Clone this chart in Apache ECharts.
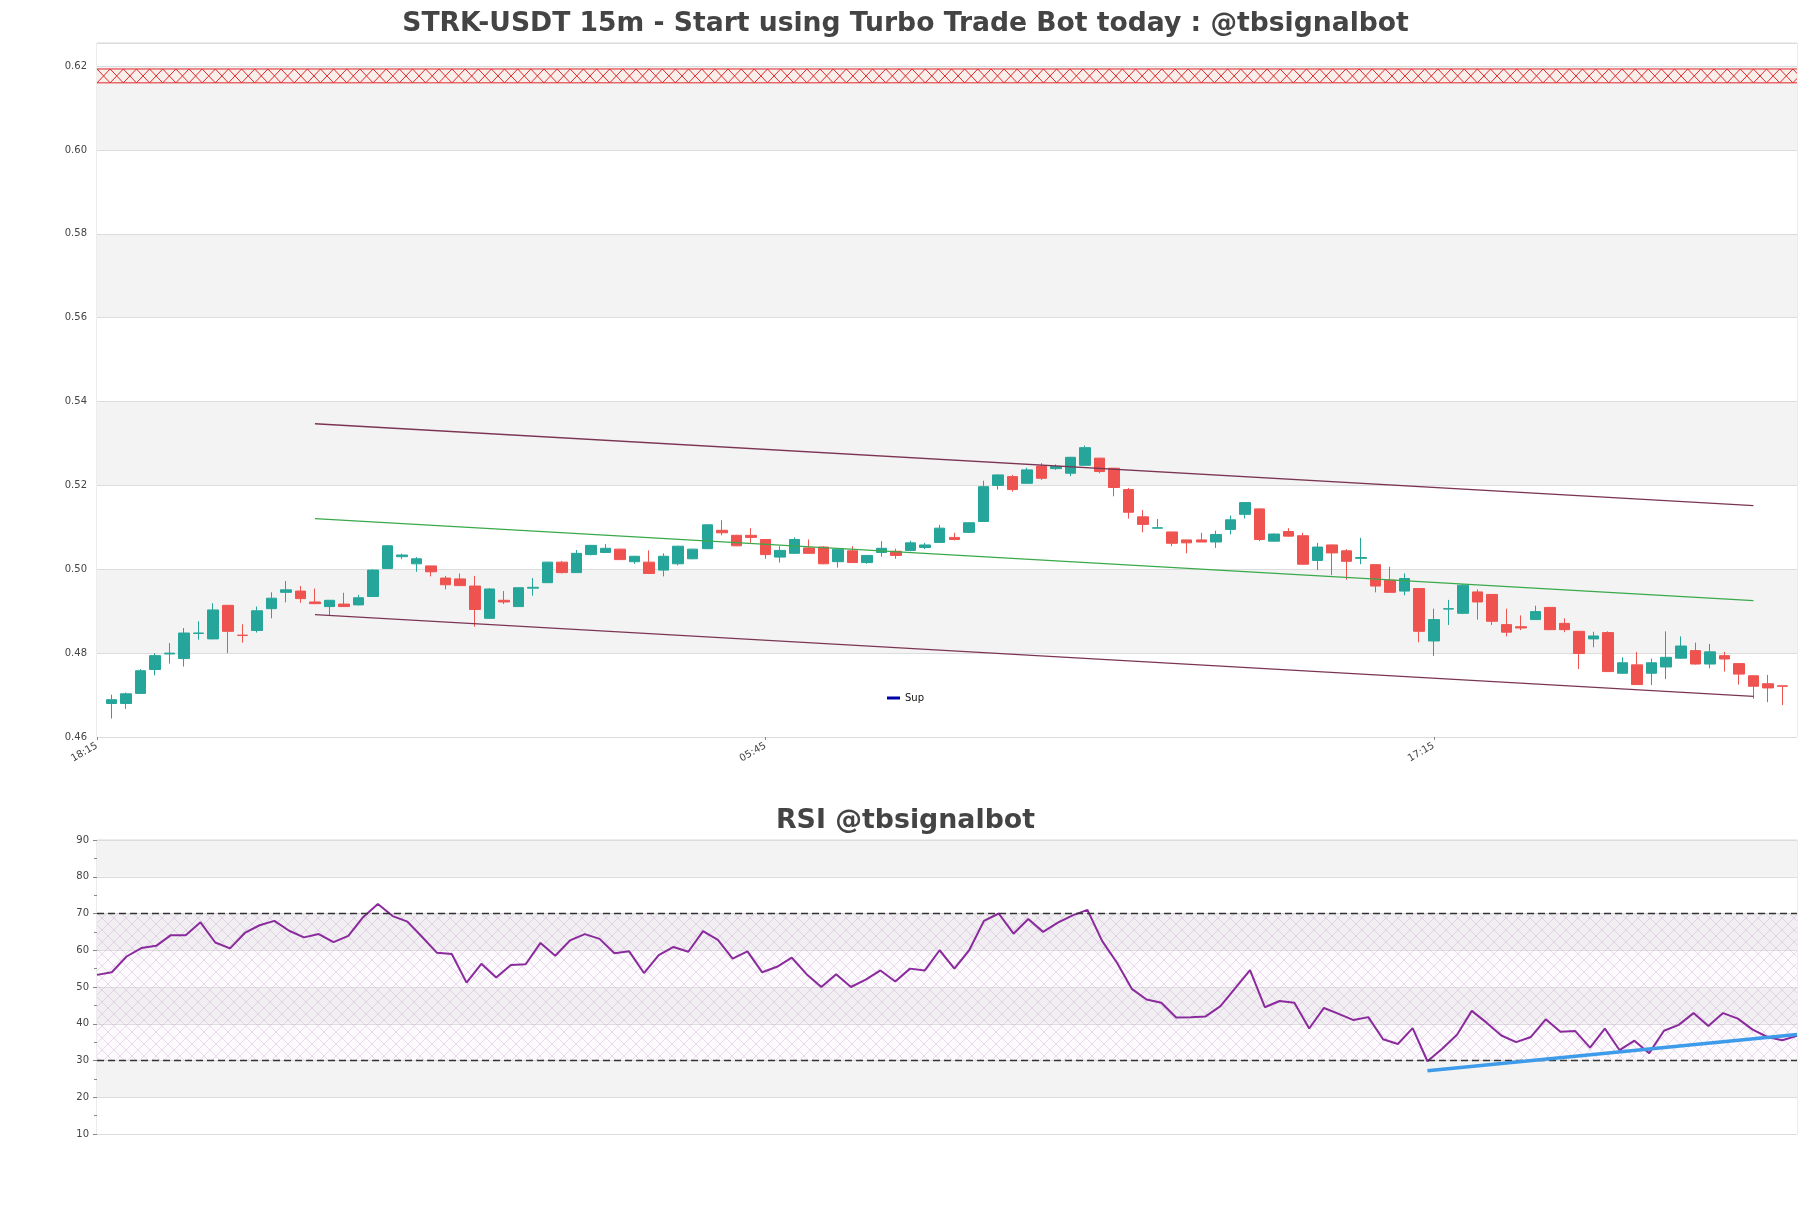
<!DOCTYPE html>
<html><head><meta charset="utf-8">
<script src="https://cdn.jsdelivr.net/npm/echarts@6/dist/echarts.min.js"></script>
<style>html,body{margin:0;padding:0;background:#fff}#c{width:1811px;height:1208px}</style>
</head><body><div id="c"></div>
<script>
// ---- category (time) labels: axis slots, first/last slot have no candle ----
const timeLabels = [
"18:15","18:30","18:45","19:00","19:15","19:30","19:45","20:00","20:15","20:30","20:45","21:00","21:15","21:30","21:45",
"22:00","22:15","22:30","22:45","23:00","23:15","23:30","23:45","00:00","00:15","00:30","00:45","01:00","01:15","01:30","01:45",
"02:00","02:15","02:30","02:45","03:00","03:15","03:30","03:45","04:00","04:15","04:30","04:45","05:00","05:15","05:30","05:45",
"06:00","06:15","06:30","06:45","07:00","07:15","07:30","07:45","08:00","08:15","08:30","08:45","09:00","09:15","09:30","09:45",
"10:00","10:15","10:30","10:45","11:00","11:15","11:30","11:45","12:00","12:15","12:30","12:45","13:00","13:15","13:30","13:45",
"14:00","14:15","14:30","14:45","15:00","15:15","15:30","15:45","16:00","16:15","16:30","16:45","17:00","17:15","17:30","17:45",
"18:00","18:15","18:30","18:45","19:00","19:15","19:30","19:45","20:00","20:15","20:30","20:45","21:00","21:15","21:30","21:45",
"22:00","22:15","22:30","22:45","23:00","23:15","23:30"];

// ---- OHLC values (candle i sits on slot i+1) ----
const openVals = [0.4680,0.4680,0.4704,0.4761,0.4798,0.4787,0.4847,0.4834,0.4914,0.4843,0.4854,0.4906,0.4945,0.4948,0.4922,0.4911,0.4917,0.4915,0.4935,0.5002,
0.5030,0.5013,0.5008,0.4979,0.4977,0.4960,0.4883,0.4926,0.4911,0.4955,0.4968,0.5017,0.4992,0.5035,0.5040,0.5048,0.5018,0.5017,0.4998,0.5013,
0.5025,0.5049,0.5093,0.5081,0.5081,0.5071,0.5029,0.5038,0.5051,0.5053,0.5018,0.5044,0.5016,0.5040,0.5043,0.5045,0.5052,0.5064,0.5076,0.5088,
0.5114,0.5200,0.5221,0.5205,0.5246,0.5240,0.5229,0.5248,0.5265,0.5241,0.5190,0.5125,0.5098,0.5089,0.5070,0.5070,0.5065,0.5095,0.5131,0.5144,
0.5067,0.5090,0.5080,0.5021,0.5058,0.5044,0.5026,0.5011,0.4974,0.4948,0.4954,0.4829,0.4905,0.4895,0.4946,0.4940,0.4868,0.4863,0.4880,0.4909,
0.4871,0.4852,0.4834,0.4849,0.4752,0.4772,0.4752,0.4767,0.4788,0.4806,0.4774,0.4794,0.4775,0.4746,0.4727,0.4722];
const closeVals = [0.4689,0.4703,0.4758,0.4794,0.4800,0.4848,0.4848,0.4903,0.4852,0.4842,0.4901,0.4931,0.4951,0.4930,0.4918,0.4926,0.4911,0.4932,0.4998,0.5056,
0.5034,0.5025,0.4994,0.4963,0.4961,0.4904,0.4953,0.4922,0.4956,0.4957,0.5017,0.4992,0.5038,0.5057,0.5050,0.5023,0.5031,0.4990,0.5031,0.5055,
0.5048,0.5106,0.5087,0.5056,0.5076,0.5035,0.5045,0.5071,0.5038,0.5013,0.5048,0.5016,0.5033,0.5050,0.5033,0.5063,0.5058,0.5098,0.5071,0.5111,
0.5197,0.5225,0.5190,0.5237,0.5217,0.5245,0.5267,0.5290,0.5233,0.5195,0.5136,0.5107,0.5099,0.5062,0.5063,0.5065,0.5083,0.5118,0.5159,0.5071,
0.5084,0.5079,0.5012,0.5053,0.5039,0.5019,0.5028,0.4960,0.4945,0.4978,0.4852,0.4880,0.4906,0.4962,0.4922,0.4876,0.4850,0.4860,0.4899,0.4856,
0.4856,0.4799,0.4841,0.4756,0.4777,0.4725,0.4777,0.4790,0.4817,0.4774,0.4803,0.4786,0.4750,0.4721,0.4717,0.4721];
const highVals = [0.4701,0.4706,0.4762,0.4800,0.4824,0.4860,0.4876,0.4919,0.4915,0.4869,0.4911,0.4945,0.4972,0.4960,0.4954,0.4927,0.4944,0.4939,0.5000,0.5058,
0.5037,0.5029,0.5008,0.4984,0.4990,0.4984,0.4955,0.4948,0.4956,0.4979,0.5018,0.5020,0.5046,0.5058,0.5060,0.5049,0.5032,0.5045,0.5038,0.5056,
0.5049,0.5107,0.5117,0.5082,0.5098,0.5072,0.5055,0.5076,0.5071,0.5055,0.5049,0.5055,0.5034,0.5067,0.5049,0.5068,0.5063,0.5106,0.5087,0.5112,
0.5211,0.5226,0.5225,0.5242,0.5253,0.5250,0.5268,0.5295,0.5266,0.5242,0.5194,0.5141,0.5120,0.5089,0.5070,0.5087,0.5092,0.5128,0.5160,0.5145,
0.5085,0.5098,0.5087,0.5063,0.5059,0.5048,0.5075,0.5012,0.5006,0.4990,0.4955,0.4906,0.4927,0.4965,0.4952,0.4941,0.4906,0.4890,0.4913,0.4910,
0.4883,0.4853,0.4851,0.4852,0.4790,0.4803,0.4787,0.4852,0.4840,0.4825,0.4822,0.4803,0.4776,0.4747,0.4748,0.4722];
const lowVals = [0.4644,0.4667,0.4704,0.4747,0.4775,0.4768,0.4832,0.4833,0.4800,0.4825,0.4849,0.4883,0.4921,0.4920,0.4917,0.4889,0.4910,0.4914,0.4934,0.5001,
0.5024,0.4994,0.4983,0.4952,0.4960,0.4863,0.4882,0.4917,0.4910,0.4937,0.4967,0.4990,0.4992,0.5033,0.5039,0.5022,0.5013,0.4989,0.4983,0.5009,
0.5024,0.5048,0.5081,0.5055,0.5063,0.5025,0.5016,0.5037,0.5037,0.5012,0.5004,0.5015,0.5013,0.5030,0.5025,0.5043,0.5048,0.5063,0.5069,0.5087,
0.5113,0.5190,0.5185,0.5204,0.5213,0.5237,0.5222,0.5247,0.5229,0.5174,0.5121,0.5088,0.5098,0.5055,0.5038,0.5065,0.5051,0.5083,0.5121,0.5067,
0.5066,0.5078,0.5011,0.4998,0.4986,0.4975,0.5012,0.4945,0.4945,0.4938,0.4826,0.4793,0.4867,0.4893,0.4880,0.4867,0.4840,0.4855,0.4879,0.4855,
0.4850,0.4762,0.4814,0.4755,0.4751,0.4724,0.4724,0.4738,0.4787,0.4773,0.4764,0.4756,0.4725,0.4691,0.4683,0.4676];

// ---- channel lines (candle index, value) ----
const channelIdx = [14, 113];
const upperLine = [0.5347, 0.5152];
const midLine = [0.5121, 0.4925];
const lowerLine = [0.4892, 0.4697];
// red resistance zone
const zoneLow = 0.6160, zoneHigh = 0.6193;

// ---- RSI ----
const rsiVals = [53.3,54.0,58.3,60.6,61.2,64.1,64.1,67.6,62.1,60.5,64.7,66.8,68.0,65.3,63.5,64.4,62.2,63.9,69.0,72.6,
69.3,67.8,63.6,59.3,59.0,51.2,56.3,52.6,56.0,56.2,62.0,58.5,62.7,64.4,63.1,59.2,59.7,53.8,58.7,60.9,
59.6,65.2,62.8,57.7,59.7,54.0,55.5,58.0,53.5,50.0,53.5,50.0,52.0,54.5,51.5,55.0,54.5,60.0,55.0,60.0,
68.0,70.0,64.5,68.5,65.0,67.5,69.5,71.0,62.5,56.6,49.5,46.6,45.7,41.7,41.8,42.0,44.8,49.7,54.6,44.5,
46.2,45.7,38.7,44.3,42.7,41.0,41.8,35.8,34.5,38.8,29.8,33.2,37.0,43.5,40.3,36.8,35.0,36.4,41.2,37.8,
38.0,33.5,38.7,32.8,35.4,32.0,38.1,39.7,42.9,39.4,42.9,41.4,38.4,36.4,35.5,36.7];
const rsiTrendIdx = [90, 115];
const rsiTrendVals = [27.2, 37.1];
const rsiLevels = [30, 70];

const FONT = 'DejaVu Sans';
const candleData = openVals.map((o, i) => [i + 1, o, closeVals[i], lowVals[i], highVals[i]]);
const line = (vals) => channelIdx.map((x, k) => [x + 1, vals[k]]);

function hatch(color, size, bg) {
  const c = document.createElement('canvas');
  c.width = size; c.height = size;
  const g = c.getContext('2d');
  if (bg) { g.fillStyle = bg; g.fillRect(0, 0, size, size); }
  g.strokeStyle = color; g.lineWidth = 1;
  g.beginPath(); g.moveTo(0, 0); g.lineTo(size, size); g.moveTo(size, 0); g.lineTo(0, size); g.stroke();
  return c;
}

const chart = echarts.init(document.getElementById('c'));
chart.setOption({
  animation: false,
  backgroundColor: '#ffffff',
  textStyle: { fontFamily: FONT },
  title: [
    { text: 'STRK-USDT 15m - Start using Turbo Trade Bot today : @tbsignalbot', left: 'center', top: 11, padding: 0,
      textStyle: { fontSize: 26.6, fontWeight: 'bold', color: '#444', fontFamily: FONT } },
    { text: 'RSI @tbsignalbot', left: 'center', top: 808, padding: 0,
      textStyle: { fontSize: 26.8, fontWeight: 'bold', color: '#444', fontFamily: FONT } }
  ],
  legend: { data: ['Sup'], left: 882, top: 688, icon: 'rect', itemWidth: 13, itemHeight: 3,
    textStyle: { fontSize: 10, color: '#111', fontFamily: FONT } },
  grid: [
    { left: 97, right: 14, top: 43, height: 694, show: true, borderColor: '#d9d9d9', borderWidth: 1 },
    { left: 97, right: 14, top: 840, height: 294, show: true, borderColor: '#d9d9d9', borderWidth: 1 }
  ],
  xAxis: [
    { type: 'category', gridIndex: 0, data: timeLabels, boundaryGap: false,
      axisLine: { show: false }, axisTick: { show: true, interval: 45, length: 3, lineStyle: { color: '#888' } },
      axisLabel: { interval: 45, rotate: 30, fontSize: 10, color: '#444', margin: 8, fontFamily: FONT },
      splitLine: { show: false } },
    { type: 'category', gridIndex: 1, data: timeLabels.slice(1, 117), boundaryGap: false,
      axisLine: { show: false }, axisTick: { show: false }, axisLabel: { show: false }, splitLine: { show: false } }
  ],
  yAxis: [
    { type: 'value', gridIndex: 0, min: 0.46, max: 0.6255, interval: 0.02, scale: true,
      axisLine: { show: false }, axisTick: { show: false },
      axisLabel: { formatter: v => v.toFixed(2), showMaxLabel: false, fontSize: 10, color: '#444', margin: 10, fontFamily: FONT },
      splitLine: { show: true, lineStyle: { color: '#dcdcdc', width: 1 } },
      splitArea: { show: true, areaStyle: { color: ['#ffffff', '#f3f3f3'] } } },
    { type: 'value', gridIndex: 1, min: 10, max: 90, interval: 10,
      axisLine: { show: false }, axisTick: { show: true, length: 4, lineStyle: { color: '#888' } },
      minorTick: { show: true, splitNumber: 2, length: 3, lineStyle: { color: '#888' } },
      axisLabel: { fontSize: 10, color: '#444', margin: 8, fontFamily: FONT },
      splitLine: { show: true, lineStyle: { color: '#dcdcdc', width: 1 } },
      splitArea: { show: true, areaStyle: { color: ['#ffffff', '#f3f3f3'] } } }
  ],
  series: [
    { type: 'custom', name: 'zone', xAxisIndex: 0, yAxisIndex: 0, silent: true, z: 1, data: [[1, zoneLow, zoneHigh]],
      renderItem: function (params, api) {
        const cs = params.coordSys;
        const yTop = api.coord([1, api.value(2)])[1];
        const yBot = api.coord([1, api.value(1)])[1];
        const h = yBot - yTop, w = h * 0.95;
        const left = cs.x, right = cs.x + cs.width;
        const st = { stroke: '#e0262b', lineWidth: 1, fill: null };
        const children = [
          { type: 'rect', shape: { x: left, y: yTop, width: cs.width, height: h }, style: { fill: 'rgba(255,235,225,0.5)' } },
          { type: 'line', shape: { x1: left, y1: yTop, x2: right, y2: yTop }, style: st },
          { type: 'line', shape: { x1: left, y1: yBot, x2: right, y2: yBot }, style: st }
        ];
        for (let x = left; x < right; x += w) {
          children.push({ type: 'line', shape: { x1: x, y1: yTop, x2: x + w, y2: yBot }, style: st });
          children.push({ type: 'line', shape: { x1: x, y1: yBot, x2: x + w, y2: yTop }, style: st });
        }
        return { type: 'group', children: children,
          clipPath: { type: 'rect', shape: { x: left, y: yTop - 2, width: cs.width, height: h + 4 } } };
      } },
    { type: 'candlestick', name: 'price', xAxisIndex: 0, yAxisIndex: 0, data: candleData,
      encode: { x: 0, y: [1, 2, 3, 4] }, barWidth: 11, z: 3,
      itemStyle: { color: '#26a69a', color0: '#ef5350', borderColor: '#26a69a', borderColor0: '#ef5350', borderWidth: 1 } },
    { type: 'line', name: 'upper', xAxisIndex: 0, yAxisIndex: 0, data: line(upperLine), symbol: 'none', z: 4,
      lineStyle: { color: '#7b3553', width: 1.3 } },
    { type: 'line', name: 'mid', xAxisIndex: 0, yAxisIndex: 0, data: line(midLine), symbol: 'none', z: 4,
      lineStyle: { color: '#3aa94a', width: 1.3 } },
    { type: 'line', name: 'lower', xAxisIndex: 0, yAxisIndex: 0, data: line(lowerLine), symbol: 'none', z: 4,
      lineStyle: { color: '#7b3553', width: 1.3 } },
    { type: 'line', name: 'Sup', xAxisIndex: 0, yAxisIndex: 0, data: [], symbol: 'none', color: '#0000aa',
      lineStyle: { color: '#0000aa', width: 2 } },
    { type: 'line', name: 'RSI', xAxisIndex: 1, yAxisIndex: 1, data: rsiVals, symbol: 'none', z: 4,
      lineStyle: { color: '#8a2a9c', width: 2 },
      markArea: { silent: true, itemStyle: { color: { image: hatch('rgba(150,90,170,0.20)', 12, 'rgba(235,220,240,0.15)'), repeat: 'repeat' } },
        data: [[{ yAxis: rsiLevels[0] }, { yAxis: rsiLevels[1] }]] },
      markLine: { silent: true, symbol: 'none', label: { show: false },
        lineStyle: { color: '#333', type: [7, 4], width: 1.3 },
        data: rsiLevels.map(v => ({ yAxis: v })) } },
    { type: 'line', name: 'RSI trend', xAxisIndex: 1, yAxisIndex: 1, data: rsiTrendIdx.map((x, k) => [x, rsiTrendVals[k]]),
      symbol: 'none', z: 5, lineStyle: { color: '#3d9be9', width: 3.5 } }
  ]
});
</script></body></html>
